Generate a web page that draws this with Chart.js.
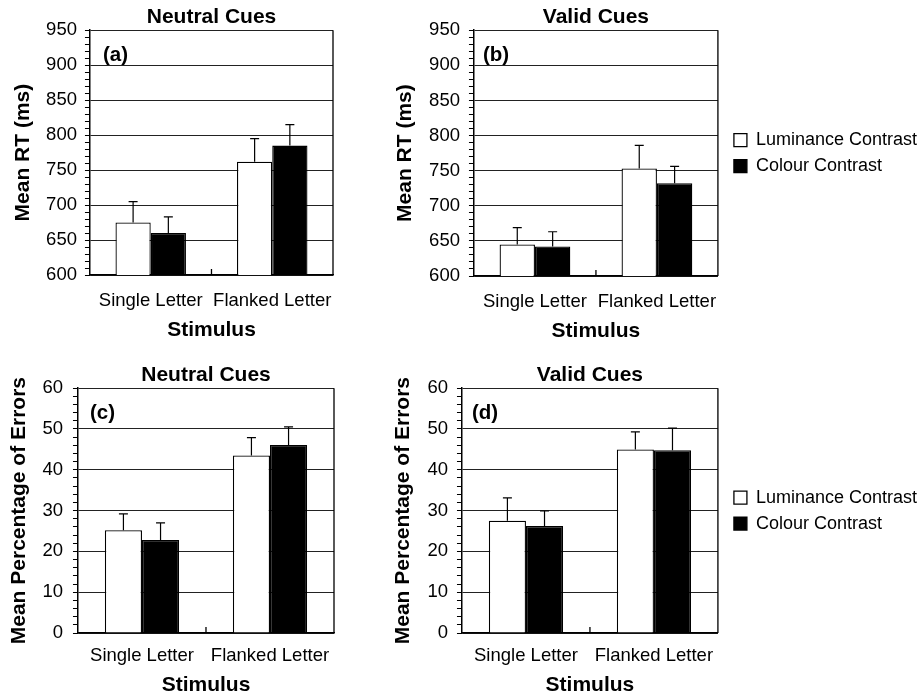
<!DOCTYPE html>
<html>
<head>
<meta charset="utf-8">
<script src="https://cdn.jsdelivr.net/npm/chart.js@4.4.1/dist/chart.umd.min.js"></script>
<style>
  html, body { margin: 0; padding: 0; background: #fff; overflow: hidden; }
  canvas { position: absolute; }
</style>
</head>
<body>
<canvas id="pa" width="345" height="346" style="left:0;top:0"></canvas>
<canvas id="pb" width="544" height="347" style="left:383px;top:0"></canvas>
<canvas id="pc" width="345" height="343" style="left:0;top:358px"></canvas>
<canvas id="pd" width="544" height="343" style="left:383px;top:358px"></canvas>
<script>
const stimuli = ['Single Letter', 'Flanked Letter'];
const conditions = ['Luminance Contrast', 'Colour Contrast'];

// tick labels
const rtTicks = [600, 650, 700, 750, 800, 850, 900, 950];
const errTicks = [0, 10, 20, 30, 40, 50, 60];

// mean RT (ms) and error bar sizes
const rtNeutralLum = [675, 762];
const rtNeutralLumSE = [30, 33];
const rtNeutralCol = [660, 785];
const rtNeutralColSE = [23, 30];
const rtValidLum = [645, 753];
const rtValidLumSE = [24, 33];
const rtValidCol = [642, 732];
const rtValidColSE = [21, 24];

// mean percentage of errors
const errNeutralLum = [25.2, 43.5];
const errNeutralLumSE = [4.0, 4.4];
const errNeutralCol = [22.8, 46.1];
const errNeutralColSE = [4.2, 4.4];
const errValidLum = [27.5, 45.0];
const errValidLumSE = [5.6, 4.3];
const errValidCol = [26.2, 44.8];
const errValidColSE = [3.7, 5.4];

const FONT = "'Liberation Sans', Arial, sans-serif";
Chart.defaults.font.family = FONT;
Chart.defaults.color = '#000';

// upward error bars with a cap
const errorBars = {
  id: 'errorBars',
  afterDatasetsDraw(chart) {
    const ctx = chart.ctx, y = chart.scales.y;
    ctx.save();
    ctx.strokeStyle = '#000';
    ctx.lineWidth = 1.2;
    chart.data.datasets.forEach((ds, i) => {
      chart.getDatasetMeta(i).data.forEach((bar, j) => {
        const top = y.getPixelForValue(ds.data[j] + ds.se[j]);
        ctx.beginPath();
        ctx.moveTo(bar.x, bar.y);
        ctx.lineTo(bar.x, top);
        ctx.moveTo(bar.x - 4.5, top);
        ctx.lineTo(bar.x + 4.5, top);
        ctx.stroke();
      });
    });
    ctx.restore();
  }
};

// right border, inner tick between categories, panel tag
const frame = {
  id: 'frame',
  beforeDatasetsDraw(chart, args, opts) {
    const { ctx, chartArea: a, scales: { x } } = chart;
    ctx.save();
    ctx.strokeStyle = '#000';
    ctx.lineWidth = 1.3;
    ctx.beginPath();
    ctx.moveTo(a.right, a.top);
    ctx.lineTo(a.right, a.bottom);
    const mid = (x.getPixelForValue(0) + x.getPixelForValue(1)) / 2;
    ctx.moveTo(mid, a.bottom);
    ctx.lineTo(mid, a.bottom - 6);
    ctx.stroke();
    ctx.font = 'bold 20.5px ' + FONT;
    ctx.textBaseline = 'middle';
    ctx.fillStyle = '#000';
    ctx.fillText(opts.tag, a.left + opts.tagX, a.top + 25);
    ctx.restore();
  }
};

function makeChart(id, p) {
  const scales = {
    x: {
      offset: true,
      grid: { display: true, drawOnChartArea: false, drawTicks: true, tickLength: p.xTickLen, tickColor: 'rgba(0,0,0,0)' },
      border: { display: true, color: '#000', width: 1.5 },
      ticks: { padding: 4, font: { size: 18.5 }, color: '#000', maxRotation: 0, minRotation: 0, autoSkip: false },
      title: { display: true, text: 'Stimulus', color: '#000', font: { size: 21, weight: 'bold' }, padding: { top: 1, bottom: 3.6 } }
    },
    y: {
      min: p.ticks[0],
      max: p.ticks[p.ticks.length - 1],
      ticks: {
        stepSize: p.minor, autoSkip: false, padding: p.yTickPad,
        font: { size: 18.5 }, color: '#000',
        callback: v => p.ticks.includes(v) ? v : ''
      },
      grid: {
        color: c => (c.tick && p.ticks.includes(c.tick.value)) ? '#222' : 'rgba(0,0,0,0)',
        tickColor: '#000', tickLength: 5, lineWidth: 1
      },
      border: { display: true, color: '#000', width: 1.5 },
      title: { display: true, text: p.yTitle, color: '#000', font: { size: 21, weight: 'bold' }, padding: { top: p.yTitlePad[0], bottom: p.yTitlePad[1] } }
    }
  };
  if (p.legend) {
    // spacer between plot and legend
    scales.gap = {
      type: 'linear', position: 'right', display: true,
      grid: { display: false }, border: { display: false }, ticks: { display: false },
      afterFit: s => { s.width = p.gap; }
    };
  }

  new Chart(document.getElementById(id), {
    type: 'bar',
    data: {
      labels: stimuli,
      datasets: [
        {
          label: conditions[0], data: p.values[0], se: p.se[0],
          backgroundColor: '#fff', borderColor: '#000', borderWidth: 1.3,
          categoryPercentage: 0.58, barPercentage: 1
        },
        {
          label: conditions[1], data: p.values[1], se: p.se[1],
          backgroundColor: '#000', borderColor: '#000', borderWidth: 1.3,
          categoryPercentage: 0.58, barPercentage: 1
        }
      ]
    },
    options: {
      responsive: false,
      animation: false,
      events: [],
      layout: { padding: { left: p.padLeft, right: p.padRight, top: 0, bottom: 0 } },
      scales: scales,
      plugins: {
        title: { display: true, text: p.title, color: '#000', fullSize: false, font: { size: 21, weight: 'bold' }, padding: { top: 5, bottom: 0 } },
        legend: {
          display: p.legend, position: 'right', fullSize: false, align: 'center', maxWidth: 300,
          labels: { boxWidth: 13, boxHeight: 13, padding: 8, color: '#000', font: { size: 18 } }
        },
        tooltip: { enabled: false },
        frame: { tag: p.tag, tagX: p.tagX }
      }
    },
    plugins: [frame, errorBars]
  });
}

makeChart('pa', {
  title: 'Neutral Cues', tag: '(a)', tagX: 13, yTitle: 'Mean RT (ms)',
  ticks: rtTicks, minor: 10, yTickPad: 8, yTitlePad: [10.4, 2.5], xTickLen: 11,
  values: [rtNeutralLum, rtNeutralCol], se: [rtNeutralLumSE, rtNeutralColSE],
  legend: false, padLeft: 0, padRight: 12
});
makeChart('pb', {
  title: 'Valid Cues', tag: '(b)', tagX: 9, yTitle: 'Mean RT (ms)',
  ticks: rtTicks, minor: 10, yTickPad: 9, yTitlePad: [4.4, 2.5], xTickLen: 11,
  values: [rtValidLum, rtValidCol], se: [rtValidLumSE, rtValidColSE],
  legend: true, gap: 8, padLeft: 5, padRight: 0
});
makeChart('pc', {
  title: 'Neutral Cues', tag: '(c)', tagX: 12, yTitle: 'Mean Percentage of Errors',
  ticks: errTicks, minor: 2, yTickPad: 10, yTitlePad: [6.4, 0.8], xTickLen: 8,
  values: [errNeutralLum, errNeutralCol], se: [errNeutralLumSE, errNeutralColSE],
  legend: false, padLeft: 0, padRight: 11
});
makeChart('pd', {
  title: 'Valid Cues', tag: '(d)', tagX: 10, yTitle: 'Mean Percentage of Errors',
  ticks: errTicks, minor: 2, yTickPad: 9, yTitlePad: [2.4, 2.8], xTickLen: 8,
  values: [errValidLum, errValidCol], se: [errValidLumSE, errValidColSE],
  legend: true, gap: 8, padLeft: 5, padRight: 0
});
</script>
</body>
</html>
